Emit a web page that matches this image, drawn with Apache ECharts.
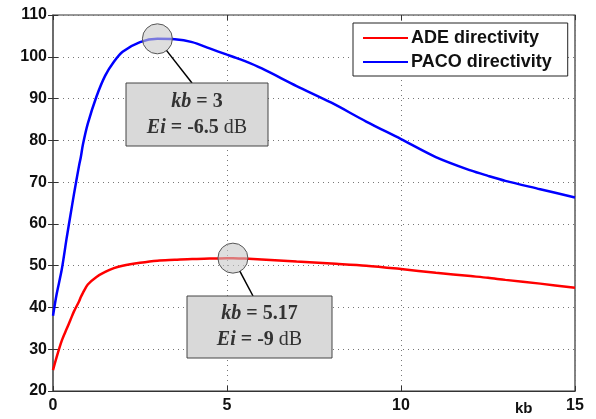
<!DOCTYPE html>
<html>
<head>
<meta charset="utf-8">
<script src="https://cdn.jsdelivr.net/npm/echarts@6/dist/echarts.min.js"></script>
<style>
  html, body { margin: 0; padding: 0; background: #fff; }
  #main { width: 596px; height: 419px; }
</style>
</head>
<body>
<div id="main"></div>
<script>
// kb values and the two directivity curves
var kbValues = [0, 0.1, 0.25, 0.4, 0.5, 0.6, 0.75, 0.8, 0.86, 1.0, 1.25, 1.5, 1.75, 2, 2.5, 3, 3.5, 4, 4.5, 5, 5.17, 5.5, 6, 7, 8, 9, 10, 11, 12, 12.5, 13, 14, 15];
var paco = [38, 43, 49, 57, 62, 67, 74, 76, 79, 84, 90.5, 95.5, 98.8, 101.2, 103.5, 104.3, 104.2, 103.5, 102, 100.5, 100, 99, 97.2, 93, 89, 84.5, 80.3, 76, 72.8, 71.5, 70.3, 68.3, 66.3];
var ade = [25, 28, 32, 35, 37, 39, 41.5, 42.5, 43.5, 45.5, 47.3, 48.5, 49.4, 50, 50.7, 51.2, 51.4, 51.6, 51.7, 51.8, 51.8, 51.7, 51.5, 51, 50.5, 50, 49.2, 48.3, 47.5, 47.1, 46.6, 45.7, 44.7];
var xTicks = [0, 5, 10, 15];
var yTicks = [20, 30, 40, 50, 60, 70, 80, 90, 100, 110];
var seriesNames = ['ADE directivity', 'PACO directivity'];
// highlighted points
var pacoPeak = [3, 104.3];
var adePeak = [5.17, 51.8];

function pairs(xs, ys) {
    return xs.map(function (x, i) { return [x, ys[i]]; });
}

var chart = echarts.init(document.getElementById('main'));

var circleStyle = {
    color: 'rgba(200,200,200,0.6)',
    borderColor: '#555',
    borderWidth: 1
};

var tickFont = {
    fontFamily: 'Liberation Sans',
    fontSize: 16,
    fontWeight: 'bold',
    color: '#111'
};

option = {
    animation: false,
    grid: {
        left: 53,
        right: 21,
        top: 15,
        bottom: 28,
        show: true,
        borderColor: '#333',
        borderWidth: 1.2
    },
    legend: {
        orient: 'vertical',
        left: 353,
        top: 23,
        data: seriesNames,
        icon: 'rect',
        itemWidth: 45,
        itemHeight: 2,
        itemGap: 6,
        padding: [6, 16, 5, 10],
        backgroundColor: '#fff',
        borderColor: '#222',
        borderWidth: 1,
        textStyle: {
            fontFamily: 'Liberation Sans',
            fontSize: 18,
            fontWeight: 'bold',
            color: '#111',
            padding: [0, 0, 0, -2]
        }
    },
    xAxis: [
        {
            type: 'value',
            min: 0,
            max: 15,
            interval: 5,
            axisLine: { show: true, lineStyle: { color: '#333', width: 1.2 } },
            axisTick: { show: true, inside: true, length: 5, lineStyle: { color: '#333' } },
            axisLabel: Object.assign({ margin: 7 }, tickFont),
            splitLine: { show: true, lineStyle: { color: '#777', type: [1, 4], width: 1 } }
        },
        {
            type: 'value',
            position: 'top',
            min: 0,
            max: 15,
            interval: 5,
            axisLine: { show: false },
            axisTick: { show: true, inside: true, length: 5, lineStyle: { color: '#333' } },
            axisLabel: { show: false },
            splitLine: { show: false }
        }
    ],
    yAxis: [
        {
            type: 'value',
            min: 20,
            max: 110,
            interval: 10,
            axisLine: { show: true, lineStyle: { color: '#666', width: 1.5 } },
            axisTick: { show: true, inside: true, length: 5, lineStyle: { color: '#333' } },
            axisLabel: Object.assign({ margin: 6 }, tickFont),
            splitLine: { show: true, lineStyle: { color: '#777', type: [1, 4], width: 1 } }
        },
        {
            type: 'value',
            position: 'right',
            min: 20,
            max: 110,
            interval: 10,
            axisLine: { show: false },
            axisTick: { show: true, inside: true, length: 5, lineStyle: { color: '#333' } },
            axisLabel: { show: false },
            splitLine: { show: false }
        }
    ],
    series: [
        {
            name: seriesNames[0],
            type: 'line',
            showSymbol: false,
            smooth: 0.3,
            lineStyle: { color: '#ff0000', width: 2.5 },
            itemStyle: { color: '#ff0000' },
            data: pairs(kbValues, ade),
            markPoint: {
                symbol: 'circle',
                symbolSize: 30,
                itemStyle: circleStyle,
                label: { show: false },
                data: [{ coord: adePeak }]
            }
        },
        {
            name: seriesNames[1],
            type: 'line',
            showSymbol: false,
            smooth: 0.3,
            lineStyle: { color: '#0000ff', width: 2.5 },
            itemStyle: { color: '#0000ff' },
            data: pairs(kbValues, paco),
            markPoint: {
                symbol: 'circle',
                symbolSize: 30,
                itemStyle: circleStyle,
                label: { show: false },
                data: [{ coord: pacoPeak }]
            }
        }
    ]
};

chart.setOption(option);

// annotation boxes with leader lines
var boxText = {
    fontFamily: 'Liberation Serif',
    fontSize: 20,
    fontWeight: 'bold',
    fill: '#333',
    align: 'center',
    verticalAlign: 'middle',
    lineHeight: 26
};

function labelBox(peak, box, lines) {
    var p = chart.convertToPixel({ xAxisIndex: 0, yAxisIndex: 0 }, peak);
    var midX = box.x + box.w / 2;
    var anchorX = box.x + box.lineX;
    var dx = anchorX - p[0], dy = box.y - p[1];
    var len = Math.sqrt(dx * dx + dy * dy);
    return [
        {
            type: 'line',
            z: 100,
            shape: { x1: p[0] + dx / len * 15, y1: p[1] + dy / len * 15, x2: anchorX, y2: box.y },
            style: { stroke: '#000', lineWidth: 1.5 }
        },
        {
            type: 'rect',
            z: 100,
            shape: { x: box.x, y: box.y, width: box.w, height: box.h },
            style: { fill: '#d9d9d9', stroke: '#444', lineWidth: 1 }
        },
        {
            type: 'text',
            z: 101,
            x: midX,
            y: box.y + box.h / 2,
            style: Object.assign({}, boxText, {
                text: lines,
                rich: {
                    i: { fontFamily: 'Liberation Serif', fontSize: 20, fontWeight: 'bold', fontStyle: 'italic', fill: '#333' },
                    n: { fontFamily: 'Liberation Serif', fontSize: 20, fontWeight: 'bold', fill: '#333' },
                    r: { fontFamily: 'Liberation Serif', fontSize: 20, fill: '#333' }
                }
            })
        }
    ];
}

var graphics = []
    .concat(labelBox(pacoPeak, { x: 126, y: 83, w: 142, h: 63, lineX: 66 }, '{i|kb} {n|= 3}\n{i|Ei} {n|= -6.5} {r|dB}'))
    .concat(labelBox(adePeak, { x: 187, y: 296, w: 145, h: 62, lineX: 66 }, '{i|kb} {n|= 5.17}\n{i|Ei} {n|= -9} {r|dB}'));

graphics.push({
    type: 'text',
    x: 515,
    y: 401,
    style: {
        text: 'kb',
        fontFamily: 'Liberation Sans',
        fontSize: 15,
        fontWeight: 'bold',
        fill: '#111'
    }
});

chart.setOption({ graphic: graphics });
</script>
</body>
</html>
